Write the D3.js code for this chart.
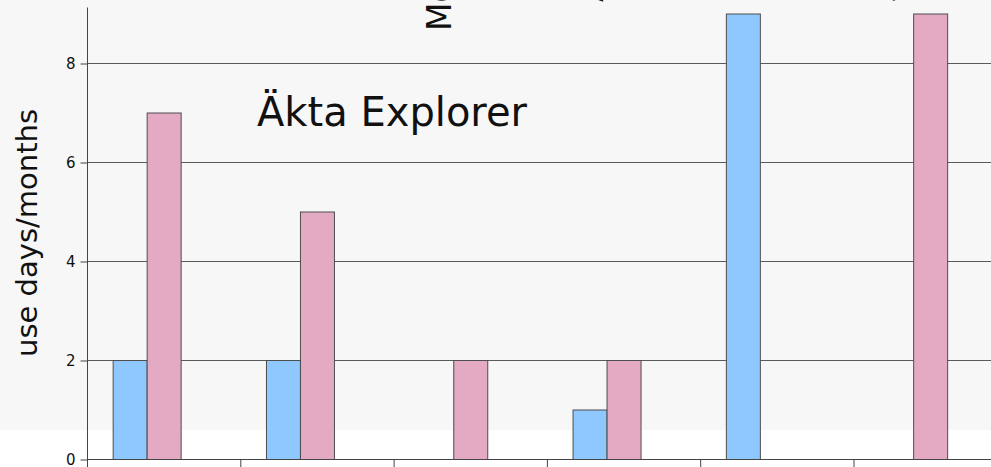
<!DOCTYPE html>
<html>
<head>
<meta charset="utf-8">
<script src="https://cdn.jsdelivr.net/npm/d3@7"></script>
<style>
  body { margin: 0; background: #fff; }
  svg { display: block; font-family: "DejaVu Sans", sans-serif; }
  .grid line { stroke: #5a5a5a; stroke-width: 1; }
  .axis path, .axis line { stroke: #444; }
</style>
</head>
<body>
<svg id="chart" width="991" height="467"></svg>
<script>
// categories along x (labels fall outside the visible crop)
var categories = ["c1", "c2", "c3", "c4", "c5", "c6"];
var series = ["blue", "pink", "extra"];
var blueValues = [2, 2, 0, 1, 9, 0];
var pinkValues = [7, 5, 2, 2, 0, 9];
var extraValues = [0, 0, 0, 0, 0, 0];
var yTicks = [0, 2, 4, 6, 8];
var yLabel = "use days/months";
var noteText = "Äkta Explorer";
var topLabels = ["Mono", "Avant", "yes"];

var colors = { blue: "#8fc8fe", pink: "#e4aac4", extra: "#cccccc" };

var svg = d3.select("#chart"),
    width = +svg.attr("width"),
    height = +svg.attr("height"),
    x0 = 87, zeroY = 459, step = 153.3;

// faint grey panel behind the plot
svg.append("rect")
    .attr("x", 0).attr("y", 0)
    .attr("width", width).attr("height", 430)
    .attr("fill", "#f7f7f7");

var x = d3.scaleBand()
    .domain(categories)
    .range([x0, x0 + step * categories.length])
    .paddingInner(0).paddingOuter(0);
var xs = d3.scaleBand()
    .domain(series)
    .range([0, x.bandwidth()])
    .paddingInner(0).paddingOuter(0.755);
var y = d3.scaleLinear()
    .domain([0, 10])
    .range([zeroY, zeroY - 495]);

// gridlines
svg.append("g")
    .attr("class", "grid")
  .selectAll("line")
  .data(yTicks.filter(function(d) { return d > 0; }))
  .enter().append("line")
    .attr("x1", x0).attr("x2", width)
    .attr("y1", function(d) { return y(d) + 0.5; })
    .attr("y2", function(d) { return y(d) + 0.5; });

var rows = categories.map(function(c, i) {
  return { cat: c, blue: blueValues[i], pink: pinkValues[i], extra: extraValues[i] };
});

svg.append("g")
  .selectAll("g")
  .data(rows)
  .enter().append("g")
    .attr("transform", function(d) { return "translate(" + x(d.cat) + ",0)"; })
  .selectAll("rect")
  .data(function(d) { return series.map(function(s) { return { key: s, value: d[s] }; }); })
  .enter().filter(function(d) { return d.value > 0; }).append("rect")
    .attr("x", function(d) { return xs(d.key) + 0.5; })
    .attr("y", function(d) { return y(d.value) + 0.5; })
    .attr("width", xs.bandwidth())
    .attr("height", function(d) { return y(0) - y(d.value); })
    .attr("fill", function(d) { return colors[d.key]; })
    .attr("stroke", "#4d4d4d")
    .attr("stroke-width", 1);

// y axis
var yAxis = svg.append("g")
    .attr("class", "axis")
    .attr("transform", "translate(" + (x0 + 0.5) + ",0.5)")
    .call(d3.axisLeft(y).tickValues(yTicks).tickSize(7).tickPadding(5))
    .attr("font-size", 15)
    .attr("font-family", "DejaVu Sans, sans-serif");
yAxis.selectAll("text").attr("fill", "#111");
yAxis.select(".domain").attr("d", "M0,7V" + height);

// x axis: ticks at band boundaries
var xAxis = svg.append("g")
    .attr("class", "axis")
    .attr("transform", "translate(0," + (zeroY + 0.5) + ")");
xAxis.append("line")
    .attr("x1", x0).attr("x2", width)
    .attr("stroke", "#444");
xAxis.selectAll(".tick")
  .data(categories)
  .enter().append("line")
    .attr("x1", function(d) { return x(d) + 0.5; })
    .attr("x2", function(d) { return x(d) + 0.5; })
    .attr("y1", 0).attr("y2", 10)
    .attr("stroke", "#444");

// axis title
svg.append("text")
    .attr("transform", "translate(37,233) rotate(-90)")
    .attr("text-anchor", "middle")
    .attr("font-size", 29)
    .attr("fill", "#111")
    .text(yLabel);

// note inside plot
svg.append("text")
    .attr("x", 257).attr("y", 126)
    .attr("font-size", 40)
    .attr("fill", "#111")
    .text(noteText);

// rotated labels that run off the top edge
var topPos = [[451, 31], [603, 2], [912, 2]];
svg.selectAll(".toplabel")
  .data(topLabels)
  .enter().append("text")
    .attr("class", "toplabel")
    .attr("transform", function(d, i) {
      return "translate(" + topPos[i][0] + "," + topPos[i][1] + ") rotate(-90)";
    })
    .attr("font-size", 33)
    .attr("fill", "#111")
    .text(function(d) { return d; });
</script>
</body>
</html>
